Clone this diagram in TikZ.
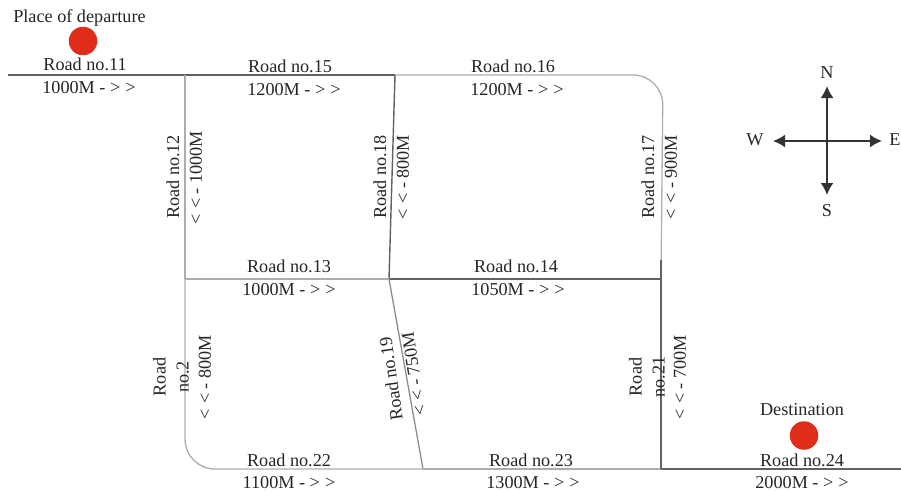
\documentclass[tikz,border=0pt]{standalone}
\usepackage{fontspec}
\setmainfont{Liberation Serif}
\usetikzlibrary{arrows.meta}
\definecolor{mark}{RGB}{224,45,26}
\tikzset{
  lbl/.style={inner sep=0pt,font=\fontsize{18.2}{20}\selectfont,text=black!85},
  vlbl/.style={lbl,rotate=90},
  road/.style={line width=1.3pt,draw=black!32},
  roaddark/.style={line width=1.4pt,draw=black!62},
  roadmid/.style={line width=1.3pt,draw=black!45},
  marker/.style={circle,fill=mark,minimum size=28.5pt,inner sep=0pt},
  compass/.style={line width=1.8pt,draw=black!80,-{Latex[length=12pt,width=13pt]}}
}
\newcommand{\gtgt}{>\hspace{0.5pt} >}
\newcommand{\ltlt}{<\hspace{0.5pt} <}
\begin{document}
\begin{tikzpicture}[x=1pt,y=-1pt]
\useasboundingbox (0,0) rectangle (901,491);
% junctions
\coordinate (s) at (8,75);
\coordinate (a) at (185,75);
\coordinate (b) at (395,75);
\coordinate (c) at (663,75);
\coordinate (d) at (185,279);
\coordinate (e) at (389,279);
\coordinate (f) at (661,279);
\coordinate (f2) at (661,260);
\coordinate (g) at (185,469);
\coordinate (h) at (423,469);
\coordinate (i) at (661,469);
\coordinate (t) at (901,469);
% roads
\draw[roaddark] (s) -- (a);
\draw[roaddark] (a) -- (b);
\draw[road,rounded corners=30pt] (b) -- (c) -- (f);
\draw[road] (a) -- (d);
\draw[roaddark] (b) -- (e);
\draw[road] (d) -- (e);
\draw[roaddark] (e) -- (f);
\draw[roadmid] (e) -- (h);
\draw[road,rounded corners=30pt] (d) -- (g) -- (h);
\draw[road] (h) -- (i);
\draw[roaddark] (f2) -- (i);
\draw[roaddark] (i) -- (t);
% markers
\node[marker] (m1) at (83,41) {};
\node[marker] (m2) at (804,435.5) {};
% texts
\node[lbl] (t0) at (79.5,18) {Place of departure};
\node[lbl] (t11) at (85,64) {Road no.11};
\node[lbl] (l11) at (89,88) {1000M - \gtgt};
\node[lbl] (t15) at (290,66) {Road no.15};
\node[lbl] (l15) at (294,90) {1200M - \gtgt};
\node[lbl] (t16) at (513,66) {Road no.16};
\node[lbl] (l16) at (517,90) {1200M - \gtgt};
\node[lbl] (t13) at (289,266) {Road no.13};
\node[lbl] (l13) at (289,290) {1000M - \gtgt};
\node[lbl] (t14) at (516,266) {Road no.14};
\node[lbl] (l14) at (518,290) {1050M - \gtgt};
\node[lbl] (t22) at (289,460) {Road no.22};
\node[lbl] (l22) at (289,483) {1100M - \gtgt};
\node[lbl] (t23) at (531,460) {Road no.23};
\node[lbl] (l23) at (533,483) {1300M - \gtgt};
\node[lbl] (t24) at (802,460) {Road no.24};
\node[lbl] (l24) at (802,483) {2000M - \gtgt};
\node[lbl] (dest) at (802,410) {Destination};
\node[vlbl] (t12) at (173,177) {Road no.12};
\node[vlbl] (l12) at (196,177.5) {\ltlt{} - 1000M};
\node[vlbl] (t18) at (380,177) {Road no.18};
\node[vlbl] (l18) at (403,177) {\ltlt{} - 800M};
\node[vlbl] (t17) at (648,177) {Road no.17};
\node[vlbl] (l17) at (671,177) {\ltlt{} - 900M};
\node[vlbl,align=center] (t2) at (171,377) {Road\\[3pt]no.2};
\node[vlbl] (l2) at (205,377) {\ltlt{} - 800M};
\node[vlbl,align=center] (t21) at (647,377) {Road\\[3pt]no.21};
\node[vlbl] (l21) at (680,377) {\ltlt{} - 700M};
\node[lbl,rotate=98] (t19) at (391,379) {Road no.19};
\node[lbl,rotate=99] (l19) at (414,374) {\ltlt{} - 750M};
% compass
\node[lbl] (N) at (827,73) {N};
\node[lbl] (S) at (827,211) {S};
\node[lbl] (W) at (755,140) {W};
\node[lbl] (E) at (895,140) {E};
\coordinate (cc) at (827,141);
\coordinate (cn) at (827,86);
\coordinate (cs) at (827,195);
\coordinate (cw) at (773,141);
\coordinate (ce) at (882,141);
\draw[compass] (cc) -- (cn);
\draw[compass] (cc) -- (cs);
\draw[compass] (cc) -- (cw);
\draw[compass] (cc) -- (ce);
\end{tikzpicture}
\end{document}
